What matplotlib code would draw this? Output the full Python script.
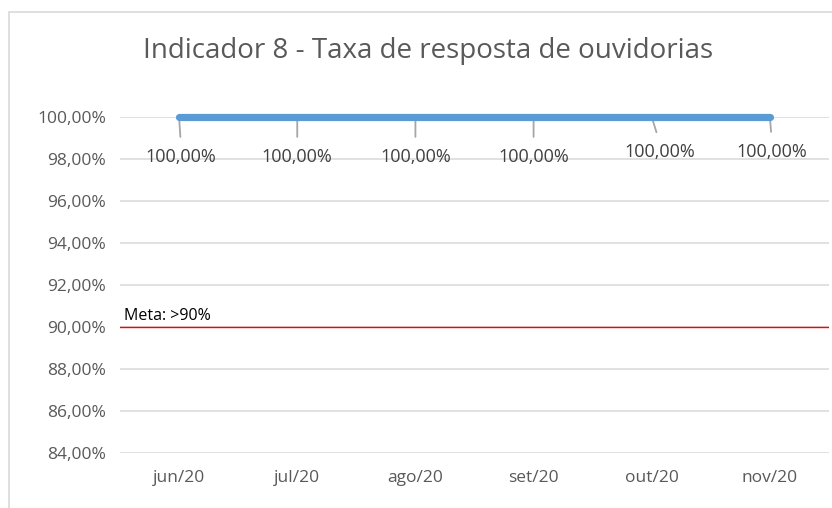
import matplotlib
matplotlib.use("Agg")
import matplotlib.pyplot as plt
from matplotlib.patches import Rectangle
from matplotlib.ticker import FuncFormatter

plt.rcParams["font.family"] = ["Open Sans", "DejaVu Sans"]

meses = ["jun/20", "jul/20", "ago/20", "set/20", "out/20", "nov/20"]
taxa = [100.0, 100.0, 100.0, 100.0, 100.0, 100.0]
meta = 90.0
rotulos_offset = [(2, -40), (0, -40), (0, -40), (0, -40), (8, -35), (2, -35)]

fig = plt.figure(figsize=(8.32, 5.08), dpi=100)
ax = fig.add_axes([120 / 832, 1 - 453 / 508, 709 / 832, (453 - 117) / 508])

# moldura do grafico
fig.patches.append(Rectangle((9 / 832, -0.1), 1.0, 1 - 12 / 508 + 0.1,
                             transform=fig.transFigure, fill=False,
                             edgecolor="#D9D9D9", lw=1.2))

x = list(range(len(meses)))
ax.plot(x, taxa, color="#5B9BD5", lw=5.2, solid_capstyle="round",
        clip_on=False, zorder=4)
ax.axhline(meta, color="#FF0000", lw=1.0, zorder=3)
ax.text(0.005, meta + 0.12, "Meta: >90%", transform=ax.get_yaxis_transform(),
        fontsize=11.5, color="black", ha="left", va="bottom")

for xi, yi, (dx, dy) in zip(x, taxa, rotulos_offset):
    ax.annotate(f"{yi:.2f}%".replace(".", ","), xy=(xi, yi),
                xytext=(dx, dy), textcoords="offset pixels",
                ha="center", va="center", fontsize=13, color="#404040",
                annotation_clip=False,
                arrowprops=dict(arrowstyle="-", color="#A6A6A6", lw=1.3,
                                relpos=(0.5, 1.0), shrinkA=6, shrinkB=0))

ax.set_xlim(-0.5, len(meses) - 0.5)
ax.set_ylim(84, 100)
ax.set_yticks(range(84, 101, 2))
ax.yaxis.set_major_formatter(FuncFormatter(lambda v, p: f"{v:.2f}%".replace(".", ",")))
ax.set_xticks(x)
ax.set_xticklabels(meses)
ax.tick_params(axis="both", length=0, labelsize=12.5, labelcolor="#595959")
ax.tick_params(axis="y", pad=10)
ax.tick_params(axis="x", pad=12)
ax.grid(axis="y", color="#D9D9D9", lw=1.1)
ax.set_axisbelow(True)
for sp in ax.spines.values():
    sp.set_visible(False)

fig.text(428 / 832, 1 - 51 / 508, "Indicador 8 - Taxa de resposta de ouvidorias",
         ha="center", va="center", fontsize=20, color="#595959")

fig.savefig("out.png", dpi=100)
